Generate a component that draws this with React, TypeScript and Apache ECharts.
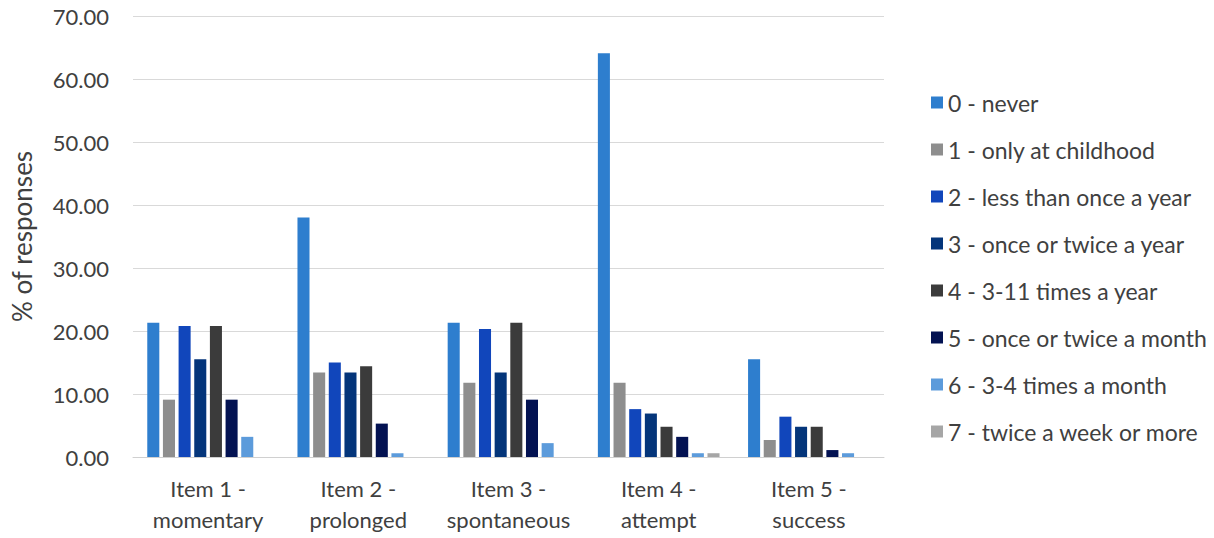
import React, { useEffect, useRef } from "react";
import * as echarts from "echarts";

const categories = [
  "Item 1 -\nmomentary",
  "Item 2 -\nprolonged",
  "Item 3 -\nspontaneous",
  "Item 4 -\nattempt",
  "Item 5 -\nsuccess",
];

const seriesNames = [
  "0 - never",
  "1 - only at childhood",
  "2 - less than once a year",
  "3 - once or twice a year",
  "4 - 3-11 times a year",
  "5 - once or twice a month",
  "6 - 3-4 times a month",
  "7 - twice a week or more",
];

const s0 = [21.3, 38.0, 21.3, 64.1, 15.5];
const s1 = [9.1, 13.4, 11.8, 11.8, 2.7];
const s2 = [20.8, 15.0, 20.3, 7.6, 6.4];
const s3 = [15.5, 13.4, 13.4, 6.9, 4.8];
const s4 = [20.8, 14.4, 21.3, 4.8, 4.8];
const s5 = [9.1, 5.3, 9.1, 3.2, 1.1];
const s6 = [3.2, 0.6, 2.2, 0.6, 0.6];
const s7 = [0, 0, 0, 0.6, 0];

const seriesValues = [s0, s1, s2, s3, s4, s5, s6, s7];

const colors = [
  "#2E7ECE",
  "#8E8E8E",
  "#1146BB",
  "#04357A",
  "#3B3B3B",
  "#031252",
  "#5C9BDB",
  "#A6A6A6",
];

const yTicks = { min: 0, max: 70, interval: 10 };

export default function App() {
  const ref = useRef<HTMLDivElement>(null);
  useEffect(() => {
    if (!ref.current) return;
    const chart = echarts.init(ref.current, null, { renderer: "svg" });
    const font = "Lato";
    chart.setOption({
      animation: false,
      textStyle: { fontFamily: font },
      grid: { left: 133, right: 330, top: 16, bottom: 81, containLabel: false },
      legend: {
        orient: "vertical",
        left: 926,
        top: 86,
        itemWidth: 12,
        itemHeight: 12,
        itemGap: 24,
        icon: "rect",
        textStyle: { fontSize: 23, lineHeight: 23, color: "#404040", fontFamily: font, padding: [0, 0, 0, 0] },
        data: seriesNames,
      },
      xAxis: {
        type: "category",
        data: categories,
        axisLine: { lineStyle: { color: "#d0d0d0", width: 1 } },
        axisTick: { show: false },
        axisLabel: {
          fontSize: 22,
          color: "#404040",
          lineHeight: 31,
          margin: 16,
          interval: 0,
          fontFamily: font,
        },
      },
      yAxis: {
        type: "value",
        min: yTicks.min,
        max: yTicks.max,
        interval: yTicks.interval,
        name: "% of responses",
        nameLocation: "middle",
        nameGap: 98,
        nameTextStyle: { fontSize: 26, color: "#404040", fontFamily: font },
        axisLine: { show: false },
        axisTick: { show: false },
        axisLabel: {
          fontSize: 22,
          color: "#404040",
          margin: 24,
          formatter: (v: number) => v.toFixed(2),
          fontFamily: font,
        },
        splitLine: { lineStyle: { color: "#d9d9d9", width: 1 } },
      },
      series: seriesNames.map((name, i) => ({
        name,
        type: "bar",
        data: seriesValues[i],
        itemStyle: { color: colors[i] },
        barGap: "30%",
        barCategoryGap: "19%",
      })),
    });
    return () => chart.dispose();
  }, []);
  return <div ref={ref} style={{ width: 1214, height: 538, position: "absolute", left: 0, top: 0 }} />;
}
